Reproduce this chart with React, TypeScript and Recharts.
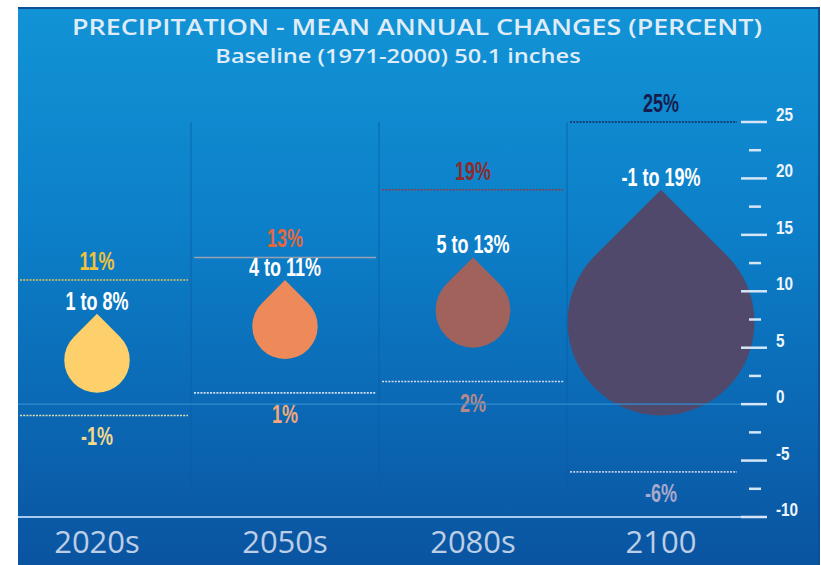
import React from 'react';
import { ComposedChart, Bar, XAxis, YAxis, CartesianGrid, ReferenceLine } from 'recharts';

const periods = ['2020s', '2050s', '2080s', '2100'];
const rangeLow = [-1, 1, 2, -6];
const rangeHigh = [11, 13, 19, 25];
const likelyLow = [1, 4, 5, -1];
const likelyHigh = [8, 11, 13, 19];
const axisTicks = [-10, -7.5, -5, -2.5, 0, 2.5, 5, 7.5, 10, 12.5, 15, 17.5, 20, 22.5, 25];

const dropColors = ['#fdd06c', '#ee8a59', '#a0625a', '#51496c'];
const topLabelColors = ['#f0c23c', '#e4683b', '#8c2b2b', '#161d4d'];
const topLineColors = ['#e6c45c', '#9aa0b4', '#8c3c4a', '#1a2a5c'];
const bottomLabelColors = ['#f2da8c', '#f3a878', '#b68a8a', '#a9a9cc'];
const bottomLineColors = ['#e0dcb0', '#d0dcf0', '#d4d8f0', '#c4c8e8'];

const data = periods.map((p, i) => ({
  period: p,
  range: [rangeLow[i], rangeHigh[i]],
  likely: [likelyLow[i], likelyHigh[i]],
  rLow: rangeLow[i],
  rHigh: rangeHigh[i],
  lLow: likelyLow[i],
  lHigh: likelyHigh[i],
}));

const condFont = "'Liberation Sans', Arial, sans-serif";
const PANEL_LEFT = 18;
const PANEL_TOP = 7;
const BORDER = 2;
const PANEL_RIGHT_LIMIT = 737;

const CondText = ({ x, y, fill, size, children }: any) => (
  <text transform={`translate(${x},${y}) scale(0.72,1)`} x={0} y={0} textAnchor="middle" fill={fill}
    fontFamily={condFont} fontWeight="bold" fontSize={size}>{children}</text>
);

const RangeShape = (props: any) => {
  const { x, y, width, height, index, payload } = props;
  const top = Math.min(y, y + height);
  const bottom = Math.max(y, y + height);
  const x1 = Math.max(x + 3, PANEL_LEFT + 2);
  const x2 = Math.min(x + width - 3, PANEL_RIGHT_LIMIT);
  const cx = x + width / 2;
  const solidTop = index === 1;
  return (
    <g>
      <line x1={x1} x2={x2} y1={top} y2={top} stroke={topLineColors[index]} strokeWidth={1.6}
        strokeDasharray={solidTop ? undefined : '2 1.2'} />
      <line x1={x1} x2={x2} y1={bottom} y2={bottom} stroke={bottomLineColors[index]} strokeWidth={1.6} strokeDasharray="2 1.2" />
      <CondText x={cx} y={top - 10} fill={topLabelColors[index]} size={25}>{payload.rHigh}%</CondText>
      <CondText x={cx} y={bottom + 30} fill={bottomLabelColors[index]} size={25}>{payload.rLow}%</CondText>
    </g>
  );
};

const DropShape = (props: any) => {
  const { x, y, width, height, index, payload } = props;
  const top = Math.min(y, y + height);
  const h = Math.abs(height);
  const r = h / (1 + Math.SQRT2);
  const cx = x + width / 2;
  const cy = top + h - r;
  const d = r / Math.SQRT2;
  const path = `M ${cx} ${top} L ${cx + d} ${cy - d} A ${r} ${r} 0 1 1 ${cx - d} ${cy - d} Z`;
  return (
    <g>
      <path d={path} fill={dropColors[index]} />
      <CondText x={cx} y={top - 4} fill="#ffffff" size={25}>{`${payload.lLow} to ${payload.lHigh}%`}</CondText>
    </g>
  );
};

const YTick = (props: any) => {
  const { x, y, payload } = props;
  const v = payload.value;
  const major = v % 5 === 0;
  return (
    <g>
      {major ? (
        <line x1={x - 14} x2={x + 12} y1={y} y2={y} stroke="#d6e6f7" strokeWidth={2.5} />
      ) : (
        <line x1={x - 6} x2={x + 6} y1={y} y2={y} stroke="#d6e6f7" strokeWidth={2.5} />
      )}
      {major && (
        <text transform={`translate(${x + 21},${y - 1}) scale(0.85,1)`} x={0} y={0} fill="#eef5fc"
          fontFamily={condFont} fontWeight="bold" fontSize={18}>{v}</text>
      )}
    </g>
  );
};

const XTick = (props: any) => {
  const { x, y, payload } = props;
  return (
    <text x={x} y={y + 36} textAnchor="middle" fill="#bccde6" fontFamily="'Open Sans', sans-serif"
      fontWeight={500} fontSize={31}>{payload.value}</text>
  );
};

export default function App() {
  return (
    <div style={{ position: 'absolute', left: 0, top: 0, width: 821, height: 565, background: '#ffffff', overflow: 'hidden' }}>
      <div style={{
        position: 'absolute', left: PANEL_LEFT, top: PANEL_TOP, width: 802, height: 558, boxSizing: 'border-box',
        borderTop: `${BORDER}px solid #0e4f92`, borderRight: `${BORDER}px solid #0e4f92`, overflow: 'hidden',
        background: 'linear-gradient(to bottom, #1293d6 0%, #0c7fc8 40%, #0b66b2 75%, #0a54a0 100%)',
      }}>
        <div style={{ position: 'absolute', left: -PANEL_LEFT, top: -PANEL_TOP - BORDER }}>
          <ComposedChart width={821} height={565} data={data} margin={{ top: 122, right: 0, bottom: 0, left: 3 }}
            barCategoryGap={0} barGap={0}>
            <CartesianGrid horizontal={false} stroke="#0b5ea6" strokeOpacity={0.8}
              verticalCoordinatesGenerator={({ offset }: any) => [1, 2, 3].map((k) => offset.left + (offset.width * k) / 4)} />
            <XAxis xAxisId="main" dataKey="period" type="category" height={48} tickSize={0} tickMargin={0}
              tick={<XTick />} axisLine={{ stroke: '#a9c9ee', strokeWidth: 2 }} tickLine={false} />
            <XAxis xAxisId="drop" dataKey="period" type="category" hide height={0} />
            <YAxis orientation="right" width={66} type="number" domain={[-10, 25]} ticks={axisTicks} interval={0}
              tickSize={0} tickMargin={0} tick={<YTick />} axisLine={false} tickLine={false} />
            <ReferenceLine xAxisId="main" y={0} stroke="#2f8dd2" strokeWidth={1.2} />
            <Bar xAxisId="main" dataKey="range" isAnimationActive={false} shape={<RangeShape />} />
            <Bar xAxisId="drop" dataKey="likely" isAnimationActive={false} shape={<DropShape />} />
          </ComposedChart>
        </div>
        <div style={{
          position: 'absolute', left: -PANEL_LEFT, top: 11 - PANEL_TOP - BORDER, width: 834, textAlign: 'center', color: '#dfecf8',
          fontFamily: "'Open Sans', sans-serif", fontSize: 22, fontWeight: 600, lineHeight: '30px', whiteSpace: 'nowrap',
          transform: 'scaleX(1.22)', transformOrigin: '417px 0',
        }}>PRECIPITATION - MEAN ANNUAL CHANGES (PERCENT)</div>
        <div style={{
          position: 'absolute', left: -PANEL_LEFT, top: 42 - PANEL_TOP - BORDER, width: 796, textAlign: 'center', color: '#dfecf8',
          fontFamily: "'Open Sans', sans-serif", fontSize: 20, fontWeight: 600, lineHeight: '28px', whiteSpace: 'nowrap',
          transform: 'scaleX(1.18)', transformOrigin: '398px 0',
        }}>Baseline (1971-2000) 50.1 inches</div>
      </div>
    </div>
  );
}
